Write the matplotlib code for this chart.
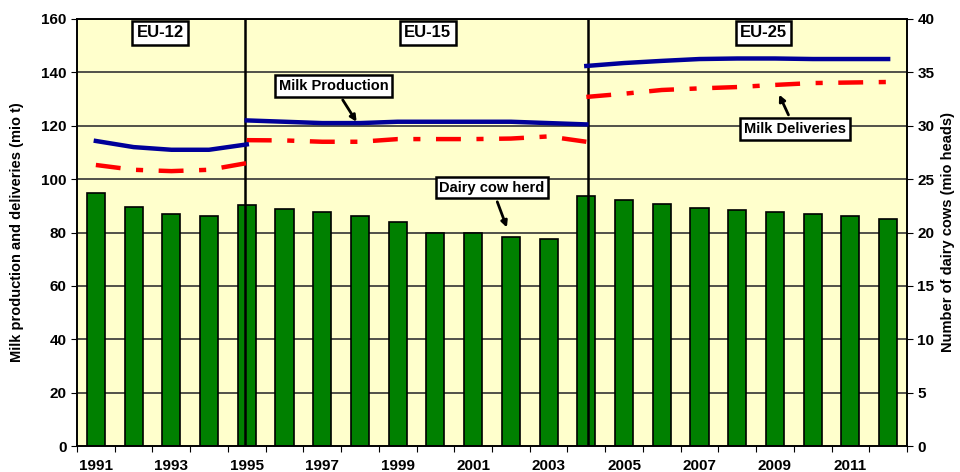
import matplotlib
matplotlib.use("Agg")
import matplotlib.pyplot as plt
import numpy as np

plt.rcParams['font.family'] = ['Liberation Sans', 'DejaVu Sans']

years = list(range(1991, 2013))
herd = [23.7, 22.4, 21.7, 21.5, 22.6, 22.2, 21.9, 21.5, 21.0, 20.0, 20.0,
        19.6, 19.4, 23.4, 23.0, 22.7, 22.3, 22.1, 21.9, 21.7, 21.5, 21.3]

eu12_years = [1991, 1992, 1993, 1994, 1995]
eu12_prod = [114.3, 112.0, 111.0, 111.0, 113.0]
eu12_deliv = [105.3, 103.5, 103.0, 103.5, 106.0]

eu15_years = list(range(1995, 2005))
eu15_prod = [122.0, 121.5, 121.0, 121.0, 121.5, 121.5, 121.5, 121.5, 121.0, 120.5]
eu15_deliv = [114.6, 114.5, 114.0, 114.0, 115.0, 115.0, 115.0, 115.2, 116.0, 114.0]

eu25_years = list(range(2004, 2013))
eu25_prod = [142.4, 143.5, 144.3, 145.0, 145.2, 145.2, 145.0, 145.0, 145.0]
eu25_deliv = [130.8, 132.0, 133.4, 134.0, 134.5, 135.3, 136.0, 136.2, 136.4]

xtick_labels = [str(y) for y in years if y % 2 == 1]
break_years = [1995, 2004]
region_labels = ["EU-12", "EU-15", "EU-25"]

def pos(ys):
    return [y - 1991 for y in ys]

fig = plt.figure(figsize=(9.6, 4.72), dpi=100)
ax = fig.add_axes([77/960, 26/472, 830/960, 427/472])
ax2 = ax.twinx()
ax.set_zorder(ax2.get_zorder() + 1)
ax.patch.set_visible(False)
ax2.patch.set_visible(True)
ax2.patch.set_facecolor('#FFFFCC')

x = np.arange(len(years))
ax2.bar(x, herd, width=0.48, color='#008000', edgecolor='black', linewidth=1.2, zorder=3)
ax2.set_ylim(0, 40)
ax2.set_yticks(range(0, 41, 5))

ax.set_ylim(0, 160)
ax.set_xlim(-0.5, len(years) - 0.5)
ax.set_yticks(range(0, 161, 20))
for v in range(20, 161, 20):
    ax2.axhline(v / 4, color='#333333', linewidth=1.2, zorder=1)

ax.axvline(break_years[0] - 1991 - 0.05, color='black', linewidth=1.8, zorder=4)
ax.axvline(break_years[1] - 1991 + 0.05, color='black', linewidth=1.8, zorder=4)

lw = 3.2
dash = (5.6, 3.5, 1.6, 3.5)
for yrs, vals in [(eu12_years, eu12_deliv), (eu15_years, eu15_deliv), (eu25_years, eu25_deliv)]:
    ax.plot(pos(yrs), vals, color='#FF0000', lw=lw, dashes=dash, zorder=5)
for yrs, vals in [(eu12_years, eu12_prod), (eu15_years, eu15_prod), (eu25_years, eu25_prod)]:
    ax.plot(pos(yrs), vals, color='#000099', lw=lw, zorder=6)

# ticks
ax.set_xticks(np.arange(-0.5, len(years), 1.0))
ax.set_xticklabels([])
ax.tick_params(axis='x', which='major', length=4, direction='out')
ax.set_xticks([i for i, y in enumerate(years) if y % 2 == 1], minor=True)
ax.set_xticklabels(xtick_labels, minor=True, fontsize=11, fontweight='bold')
ax.tick_params(axis='x', which='minor', length=0, pad=9)
ax.tick_params(axis='y', labelsize=11, length=4)
ax2.tick_params(axis='y', labelsize=11, length=4)
for t in ax.get_yticklabels() + ax2.get_yticklabels():
    t.set_fontweight('bold')

ax.set_ylabel("Milk production and deliveries (mio t)", fontsize=10.5, fontweight='bold', labelpad=12)
ax2.set_ylabel("Number of dairy cows (mio heads)", fontsize=10.5, fontweight='bold', labelpad=5)

for a in (ax, ax2):
    for sp in a.spines.values():
        sp.set_color('black'); sp.set_linewidth(1.2)

box = dict(boxstyle='square,pad=0.25', facecolor='white', edgecolor='black', linewidth=1.8)
ax.text(1.7, 154.8, region_labels[0], ha='center', va='center', fontsize=12, fontweight='bold', bbox=box, zorder=8)
ax.text(8.8, 154.8, region_labels[1], ha='center', va='center', fontsize=12, fontweight='bold', bbox=box, zorder=8)
ax.text(17.7, 154.8, region_labels[2], ha='center', va='center', fontsize=12, fontweight='bold', bbox=box, zorder=8)

arrow = dict(arrowstyle='-|>', color='black', lw=2.0, mutation_scale=9)
ax.annotate("Milk Production", xy=(6.95, 120.6), xytext=(6.31, 134.9), ha='center', va='center',
            fontsize=10.5, fontweight='bold', bbox=box, arrowprops=arrow, zorder=8)
ax.annotate("Milk Deliveries", xy=(18.08, 132.6), xytext=(18.53, 118.8), ha='center', va='center',
            fontsize=10.5, fontweight='bold', bbox=box, arrowprops=arrow, zorder=8)
ax.annotate("Dairy cow herd", xy=(10.92, 80.9), xytext=(10.5, 96.8), ha='center', va='center',
            fontsize=10.5, fontweight='bold', bbox=box, arrowprops=arrow, zorder=8)

fig.savefig("out.png", dpi=100, facecolor='white')
